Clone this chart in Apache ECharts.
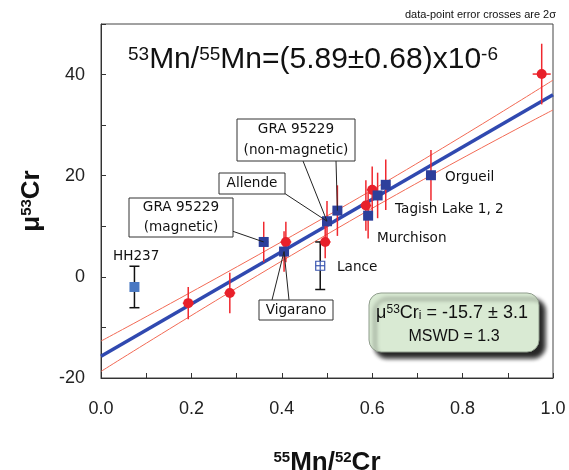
<!DOCTYPE html>
<html>
<head>
<meta charset="utf-8">
<script src="https://cdn.jsdelivr.net/npm/echarts@6/dist/echarts.min.js"></script>
<style>
  html, body { margin: 0; padding: 0; background: #fff; }
  #main { width: 569px; height: 470px; }
</style>
</head>
<body>
<div id="main"></div>
<script>
// red circles (whole-rock / other samples)
const redX = [0.193, 0.285, 0.409, 0.496, 0.586, 0.600, 0.975];
const redY = [-5.2, -3.2, 6.9, 6.9, 14.1, 17.2, 40.1];
const redYErr = [3.2, 4.0, 4.0, 3.2, 5.0, 4.6, 6.0];
const redXErr = [0.012, 0.012, 0.012, 0.012, 0.012, 0.012, 0.02];

// dark blue squares (chondrites)
const sqNames = ['GRA 95229 (magnetic)', 'Vigarano', 'Allende', 'GRA 95229 (non-magnetic)',
  'Murchison', 'Tagish Lake 1', 'Tagish Lake 2', 'Orgueil'];
const sqX = [0.360, 0.405, 0.500, 0.523, 0.591, 0.612, 0.630, 0.730];
const sqY = [6.9, 5.0, 11.0, 13.1, 12.1, 16.1, 18.2, 20.1];
const sqYErr = [4.0, 4.0, 4.0, 5.0, 4.5, 4.5, 5.0, 5.0];
const sqXErr = [0.01, 0.01, 0.01, 0.01, 0.01, 0.01, 0.01, 0.01];

// HH237 and Lance (black error bars)
const hhX = [0.074], hhY = [-2.0], hhErr = [4.1];
const lanceX = [0.485], lanceY = [2.2], lanceErr = [4.7];

// isochron fit and its envelope
const fitX = [0, 1];
const fitY = [-15.7, 36.0];
const envX = [0, 0.55, 1];
const envUpper = [-12.7, 14.6, 38.9];
const envLower = [-18.7, 11.0, 33.0];

const xTicks = [0, 0.2, 0.4, 0.6, 0.8, 1.0];
const yTicks = [-20, 0, 20, 40];

const zip = (a, b) => a.map((v, i) => [v, b[i]]);

const chart = echarts.init(document.getElementById('main'));

function errBars(xs, ys, eys, exs, color, caps) {
  return {
    type: 'custom',
    z: 3,
    silent: true,
    data: xs.map((x, i) => [x, ys[i], eys[i], exs ? exs[i] : 0]),
    renderItem: (params, api) => {
      const x = api.value(0), y = api.value(1), ey = api.value(2), ex = api.value(3);
      const t = api.coord([x, y + ey]), b = api.coord([x, y - ey]);
      const st = { stroke: color, lineWidth: 1.5 };
      const kids = [{ type: 'line', shape: { x1: t[0], y1: t[1], x2: b[0], y2: b[1] }, style: st }];
      if (ex > 0) {
        const l = api.coord([x - ex, y]), r = api.coord([x + ex, y]);
        kids.push({ type: 'line', shape: { x1: l[0], y1: l[1], x2: r[0], y2: r[1] }, style: st });
      }
      if (caps) {
        kids.push({ type: 'line', shape: { x1: t[0] - 5, y1: t[1], x2: t[0] + 5, y2: t[1] }, style: st });
        kids.push({ type: 'line', shape: { x1: b[0] - 5, y1: b[1], x2: b[0] + 5, y2: b[1] }, style: st });
      }
      return { type: 'group', children: kids };
    }
  };
}

const option = {
  animation: false,
  title: {
    text: '{sup|53}Mn/{sup|55}Mn=(5.89±0.68)x10{sup|-6}',
    left: 123, top: 40,
    textStyle: {
      fontFamily: 'Liberation Sans', fontSize: 30, fontWeight: 'normal', color: '#111',
      rich: { sup: { fontSize: 19, verticalAlign: 'top', fontFamily: 'Liberation Sans', color: '#111' } }
    }
  },
  grid: { left: 101, right: 16, top: 24, bottom: 92, show: true, borderColor: '#444', borderWidth: 1,
    containLabel: false, outerBoundsMode: 'none' },
  xAxis: {
    type: 'value', min: 0, max: 1, interval: 0.1,
    name: '{sup|55}Mn/{sup|52}Cr', nameLocation: 'middle', nameGap: 72,
    nameTextStyle: {
      fontFamily: 'Liberation Sans', fontSize: 26, fontWeight: 'bold', color: '#111',
      rich: { sup: { fontSize: 15, fontWeight: 'bold', verticalAlign: 'top', color: '#111' } }
    },
    axisLine: { onZero: false, lineStyle: { color: '#333' } },
    axisTick: { inside: true, length: 5, lineStyle: { color: '#333' } },
    splitLine: { show: false },
    axisLabel: {
      margin: 22, fontSize: 18, fontFamily: 'Liberation Sans', color: '#222',
      formatter: v => xTicks.some(t => Math.abs(t - v) < 1e-6) ? v.toFixed(1) : ''
    }
  },
  yAxis: {
    type: 'value', min: -20, max: 50, interval: 10,
    name: 'μ{sup|53}Cr', nameLocation: 'middle', nameGap: 56, nameRotate: 90,
    nameTextStyle: {
      fontFamily: 'Liberation Sans', fontSize: 26, fontWeight: 'bold', color: '#111',
      rich: { sup: { fontSize: 15, fontWeight: 'bold', verticalAlign: 'top', color: '#111' } }
    },
    axisLine: { onZero: false, lineStyle: { color: '#333' } },
    axisTick: { inside: true, length: 5, lineStyle: { color: '#333' } },
    splitLine: { show: false },
    axisLabel: {
      margin: 16, fontSize: 18, fontFamily: 'Liberation Sans', color: '#222',
      formatter: v => yTicks.includes(Math.round(v)) ? String(Math.round(v)) : ''
    }
  },
  series: [
    { type: 'line', data: zip(envX, envUpper), smooth: true, symbol: 'none', z: 1,
      lineStyle: { color: '#f26a55', width: 1 } },
    { type: 'line', data: zip(envX, envLower), smooth: true, symbol: 'none', z: 1,
      lineStyle: { color: '#f26a55', width: 1 } },
    { type: 'line', data: zip(fitX, fitY), symbol: 'none', z: 2,
      lineStyle: { color: '#3049b0', width: 3.5 } },
    errBars(redX, redY, redYErr, redXErr, '#f0282e', false),
    errBars(sqX, sqY, sqYErr, sqXErr, '#f0282e', false),
    errBars(hhX, hhY, hhErr, null, '#111', true),
    errBars(lanceX, lanceY, lanceErr, null, '#111', true),
    { type: 'scatter', data: zip(redX, redY), symbol: 'circle', symbolSize: 10, z: 4,
      itemStyle: { color: '#e8202a', opacity: 1 } },
    { type: 'scatter', data: zip(sqX, sqY), symbol: 'rect', symbolSize: 10, z: 5,
      itemStyle: { color: '#2d3f9b', opacity: 1 } },
    { type: 'scatter', data: zip(hhX, hhY), symbol: 'rect', symbolSize: 10, z: 5,
      itemStyle: { color: '#4a78c2', opacity: 1 } },
    {
      type: 'custom', z: 5, data: zip(lanceX, lanceY),
      renderItem: (params, api) => {
        const p = api.coord([api.value(0), api.value(1)]);
        const st = { stroke: '#3a56b0', lineWidth: 1.2, fill: '#fff' };
        return { type: 'group', children: [
          { type: 'rect', shape: { x: p[0] - 4.5, y: p[1] - 4.5, width: 9, height: 9 }, style: st },
          { type: 'line', shape: { x1: p[0] - 4.5, y1: p[1], x2: p[0] + 4.5, y2: p[1] }, style: { stroke: '#3a56b0', lineWidth: 1.2 } },
          { type: 'line', shape: { x1: p[0], y1: p[1] - 4.5, x2: p[0], y2: p[1] + 4.5 }, style: { stroke: '#3a56b0', lineWidth: 1.2 } }
        ] };
      }
    }
  ]
};
chart.setOption(option);

// annotations: boxes, plain labels, leader lines to the data points
const lblFont = { fontFamily: 'DejaVu Sans', fontSize: 13.6, fill: '#111' };
const px = i => chart.convertToPixel({ xAxisIndex: 0, yAxisIndex: 0 }, [sqX[i], sqY[i]]);
const g = [];
function box(x, y, w, h, lines) {
  g.push({ type: 'rect', shape: { x, y, width: w, height: h }, z: 10,
    style: { fill: '#fff', stroke: '#333', lineWidth: 1 } });
  const lh = h / lines.length;
  lines.forEach((t, i) => g.push({ type: 'text', z: 11, x: x + w / 2, y: y + lh * i + lh / 2,
    style: Object.assign({ text: t, align: 'center', verticalAlign: 'middle' }, lblFont) }));
}
function leader(x1, y1, i) {
  const p = px(i);
  g.push({ type: 'line', z: 9, shape: { x1, y1, x2: p[0], y2: p[1] }, style: { stroke: '#222', lineWidth: 1 } });
}
function label(x, y, t) {
  g.push({ type: 'text', z: 11, x, y, style: Object.assign({ text: t, align: 'left', verticalAlign: 'middle' }, lblFont) });
}
leader(232, 231, 0);
leader(272, 300, 1); leader(289, 300, 1);
leader(284, 193, 2); leader(303, 161, 2);
leader(336, 161, 3);
box(129, 198, 104, 39, ['GRA 95229', '(magnetic)']);
box(219, 173, 66, 21, ['Allende']);
box(237, 119, 118, 42, ['GRA 95229', '(non-magnetic)']);
box(259, 300, 74, 20, ['Vigarano']);
label(113, 256, 'HH237');
label(337, 267, 'Lance');
label(377, 238, 'Murchison');
label(395, 209, 'Tagish Lake 1, 2');
label(445, 177, 'Orgueil');

// note at top right
g.push({ type: 'text', right: 13, top: 9, style: { text: 'data-point error crosses are 2σ',
  fontFamily: 'Liberation Sans', fontSize: 11, fill: '#111' } });

// fit result box
g.push({ type: 'rect', z: 10, shape: { x: 369, y: 293, width: 170, height: 59, r: 12 },
  style: { fill: '#d9ead3', stroke: '#8f9c8c', lineWidth: 1,
    shadowBlur: 4, shadowOffsetX: 6, shadowOffsetY: 6, shadowColor: 'rgba(0,0,0,0.85)' } });
g.push({ type: 'text', z: 11, x: 452, y: 313, style: {
  text: 'μ{sup|53}Cr{sub|i} = -15.7 ± 3.1', align: 'center', verticalAlign: 'middle',
  fontFamily: 'Liberation Sans', fontSize: 18, fill: '#111',
  rich: { sup: { fontSize: 12, verticalAlign: 'top', fill: '#111' },
          sub: { fontSize: 12, verticalAlign: 'bottom', fill: '#111' } } } });
g.push({ type: 'text', z: 11, x: 454, y: 337, style: {
  text: 'MSWD = 1.3', align: 'center', verticalAlign: 'middle',
  fontFamily: 'Liberation Sans', fontSize: 16, fill: '#111' } });

chart.setOption({ graphic: g });
</script>
</body>
</html>
